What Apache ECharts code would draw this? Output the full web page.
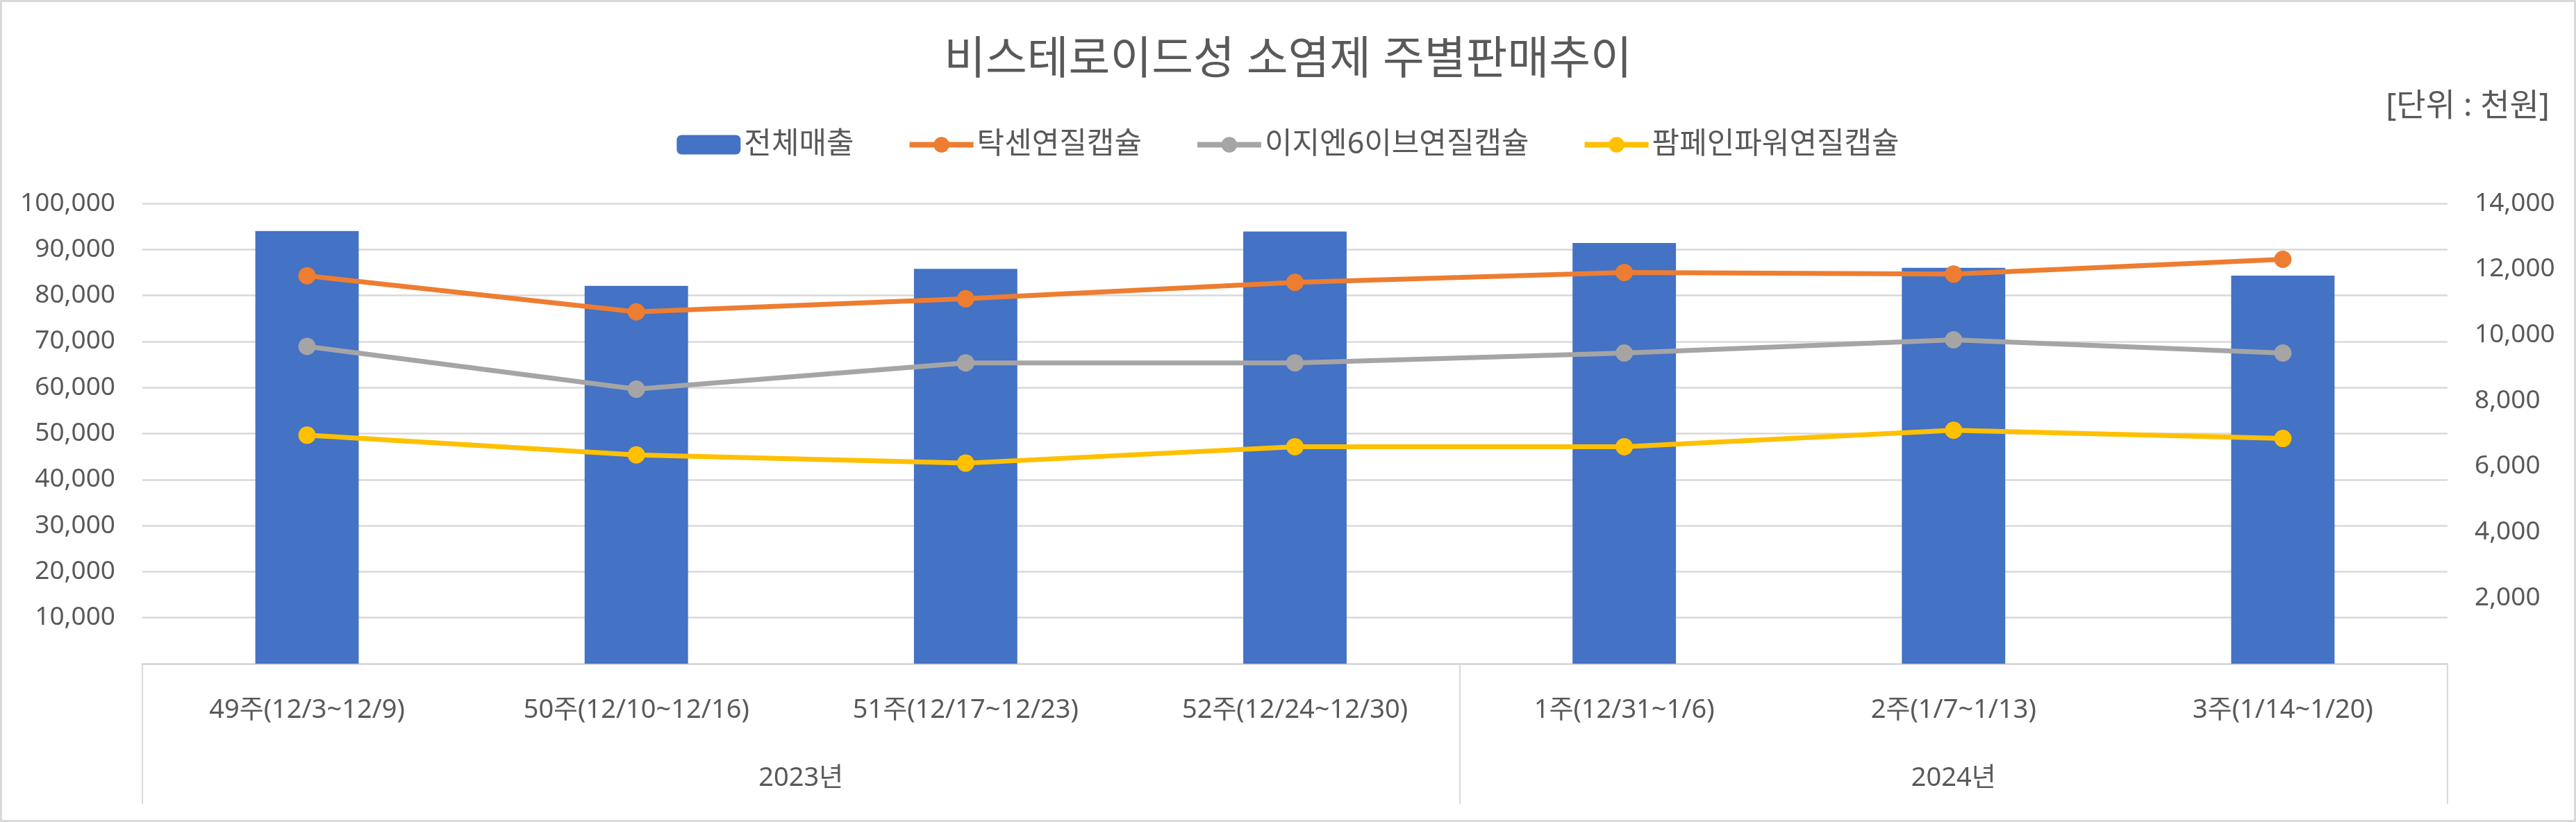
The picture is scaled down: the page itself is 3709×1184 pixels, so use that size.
<!DOCTYPE html>
<html>
<head>
<meta charset="utf-8">
<script src="https://cdn.jsdelivr.net/npm/echarts@6/dist/echarts.min.js"></script>
<style>
html,body{margin:0;padding:0;background:#fff;}
#chart{width:3709px;height:1184px;}
</style>
</head>
<body>
<div id="chart"></div>
<script>
const titleText = '비스테로이드성 소염제 주별판매추이';
const unitText = '[단위 : 천원]';
const weeks = ['49주(12/3~12/9)', '50주(12/10~12/16)', '51주(12/17~12/23)', '52주(12/24~12/30)', '1주(12/31~1/6)', '2주(1/7~1/13)', '3주(1/14~1/20)'];
const yearNames = ['2023년', '2024년'];
const yearCounts = [4, 3];
const seriesNames = ['전체매출', '탁센연질캡슐', '이지엔6이브연질캡슐', '팜페인파워연질캡슐'];
const totalSales = [94000, 82100, 85800, 93900, 91400, 86000, 84300];
const taxen = [11800, 10700, 11100, 11600, 11900, 11850, 12300];
const easyN6 = [9650, 8350, 9150, 9150, 9450, 9850, 9450];
const pampain = [6950, 6350, 6100, 6600, 6600, 7100, 6850];

// build half-step year axis
const halfCount = weeks.length * 2 + 1;
const yearAxisData = new Array(halfCount).fill('');
const dividerIdx = [0];
let start = 0;
yearNames.forEach((n, i) => {
  yearAxisData[2 * start + yearCounts[i]] = n;
  start += yearCounts[i];
  dividerIdx.push(2 * start);
});

const FONT = '"Noto Sans", "Noto Sans CJK KR", sans-serif';
const TXT = '#595959';
const GRID = '#d9d9d9';

const chart = echarts.init(document.getElementById('chart'));
chart.setOption({
  backgroundColor: '#fff',
  animation: false,
  title: {
    text: titleText,
    left: 'center',
    top: 50,
    textStyle: { fontFamily: FONT, fontSize: 65, fontWeight: 'normal', color: TXT }
  },
  graphic: [
    { type: 'rect', shape: { x: 1.5, y: 1.5, width: 3706, height: 1181 }, style: { fill: 'none', stroke: GRID, lineWidth: 3 }, silent: true },
    { type: 'text', right: 38, top: 131, style: { text: unitText, fontFamily: FONT, fontSize: 46, fill: TXT } }
  ],
  legend: {
    top: 182,
    left: 'center',
    itemWidth: 92,
    itemHeight: 28,
    itemGap: 76,
    lineStyle: { width: 8 },
    textStyle: { fontFamily: FONT, fontSize: 43, color: TXT, padding: [0, 0, 0, 0] },
    data: seriesNames
  },
  grid: { left: 205, right: 185, top: 293, bottom: 228, containLabel: false },
  xAxis: [
    {
      type: 'category',
      data: weeks,
      axisLine: { lineStyle: { color: GRID, width: 3 } },
      axisTick: { show: false },
      axisLabel: { interval: 0, margin: 48, fontFamily: FONT, fontSize: 38, color: TXT }
    },
    {
      type: 'category',
      position: 'bottom',
      boundaryGap: false,
      data: yearAxisData,
      axisLine: { show: false },
      axisTick: {
        show: true,
        length: 202,
        interval: (idx) => dividerIdx.indexOf(idx) >= 0,
        lineStyle: { color: GRID, width: 2 }
      },
      axisLabel: { interval: 0, margin: 146, fontFamily: FONT, fontSize: 38, color: TXT },
      splitLine: { show: false }
    }
  ],
  yAxis: [
    {
      type: 'value', min: 0, max: 100000, interval: 10000,
      axisLine: { show: false }, axisTick: { show: false },
      splitLine: { lineStyle: { color: GRID, width: 2.5 } },
      axisLabel: {
        margin: 39, fontFamily: FONT, fontSize: 37, color: TXT,
        formatter: (v) => v === 0 ? '' : v.toLocaleString('en-US')
      }
    },
    {
      type: 'value', min: 0, max: 14000, interval: 2000,
      axisLine: { show: false }, axisTick: { show: false },
      splitLine: { show: false },
      axisLabel: {
        margin: 39, fontFamily: FONT, fontSize: 37, color: TXT,
        formatter: (v) => v === 0 ? '' : v.toLocaleString('en-US')
      }
    }
  ],
  series: [
    { name: seriesNames[0], type: 'bar', data: totalSales, barWidth: '31.4%', itemStyle: { color: '#4472C4' }, yAxisIndex: 0, z: 1 },
    { name: seriesNames[1], type: 'line', data: taxen, yAxisIndex: 1, symbol: 'circle', symbolSize: 25, lineStyle: { width: 7, color: '#ED7D31' }, itemStyle: { color: '#ED7D31' }, z: 3 },
    { name: seriesNames[2], type: 'line', data: easyN6, yAxisIndex: 1, symbol: 'circle', symbolSize: 25, lineStyle: { width: 7, color: '#A5A5A5' }, itemStyle: { color: '#A5A5A5' }, z: 3 },
    { name: seriesNames[3], type: 'line', data: pampain, yAxisIndex: 1, symbol: 'circle', symbolSize: 25, lineStyle: { width: 7, color: '#FFC000' }, itemStyle: { color: '#FFC000' }, z: 3 }
  ]
});
</script>
</body>
</html>
